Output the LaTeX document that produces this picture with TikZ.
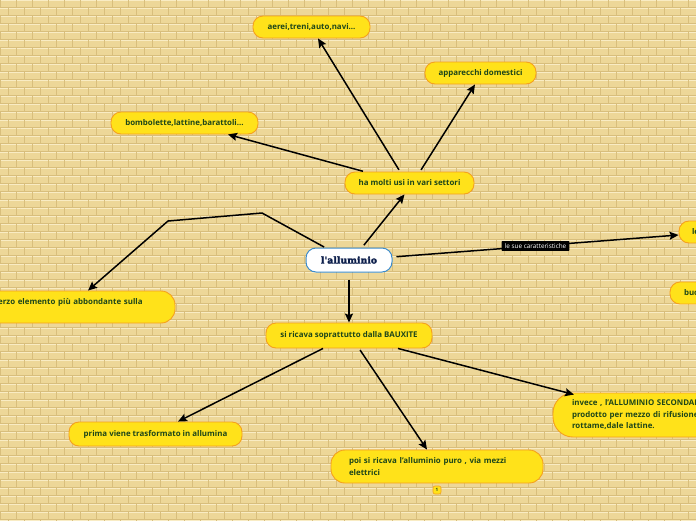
\documentclass[tikz,border=0pt]{standalone}
\usepackage{fontspec}
\setmainfont{Open Sans}
\newfontfamily\titlefont[BoldFeatures={FakeBold=2.5}]{DejaVu Serif}
\usetikzlibrary{arrows.meta,calc}
\definecolor{bgbase}{RGB}{237,215,152}
\definecolor{mortarlight}{RGB}{249,236,196}
\definecolor{mortardark}{RGB}{216,190,124}
\definecolor{boxyellow}{RGB}{255,226,26}
\definecolor{boxorange}{RGB}{245,160,30}
\definecolor{txtgreen}{RGB}{30,70,25}
\definecolor{titlenavy}{RGB}{12,30,75}
\definecolor{titleblue}{RGB}{60,140,205}
\tikzset{
  leaf/.style={draw=boxorange, line width=0.9pt, fill=boxyellow, rounded corners=10pt,
    text=txtgreen, font=\fontsize{7.9}{11.5}\selectfont\bfseries, inner sep=0pt,
    minimum height=22pt},
  wideleaf/.style={leaf, align=left, inner xsep=18pt, inner ysep=0pt, rounded corners=14pt},
  rootbox/.style={draw=titleblue, line width=1pt, fill=white, rounded corners=10pt,
    text=titlenavy, font=\titlefont\bfseries\fontsize{9.3}{10}\selectfont,
    minimum width=86pt, minimum height=24pt, inner sep=0pt},
  conn/.style={draw=black, line width=1.5pt, -{Stealth[length=9pt,width=8pt,inset=1.5pt]}},
  edgelabel/.style={fill=black, text=white, font=\fontsize{6.4}{7}\selectfont,
    inner xsep=3pt, inner ysep=2.4pt, rounded corners=0.6pt},
  badge/.style={draw=boxorange, line width=0.6pt, fill=boxyellow, rounded corners=2pt,
    minimum size=8pt, inner sep=0pt, text=txtgreen, font=\fontsize{4.5}{5}\selectfont\bfseries}
}
\begin{document}
\begin{tikzpicture}[x=1pt,y=-1pt]
\useasboundingbox (0,0) rectangle (696,520);
\clip (0,0) rectangle (696,520);
% brick background
\fill[bgbase] (0,0) rectangle (696,520);
\foreach \r in {0,...,65} {
  \pgfmathsetmacro\yy{\r*8}
  \pgfmathsetmacro\off{mod(\r,2)*8}
  \draw[mortarlight, line width=0.9pt] (0,\yy) -- (696,\yy);
  \draw[mortardark, line width=0.4pt] (0,\yy+7.3) -- (696,\yy+7.3);
  \draw[mortardark, line width=0.6pt] \foreach \c in {0,...,44} { (\off+\c*16,\yy) -- ++(0,7.3) };
}
% nodes
\node[leaf, minimum width=117pt] (aerei) at (311.5,27) {aerei,treni,auto,navi...};
\node[leaf, minimum width=111pt] (app) at (480.5,73) {apparecchi domestici};
\node[leaf, minimum width=147pt] (bomb) at (184.5,123) {bombolette,lattine,barattoli...};
\node[leaf, minimum width=129pt] (usi) at (409.5,183) {ha molti usi in vari settori};
\node[rootbox] (allu) at (349,260) {l'alluminio};
\node[wideleaf, text width=177pt, minimum height=32pt] (terzo) at (68.5,307) {è il terzo elemento più abbondante sulla\\terra};
\node[leaf, align=left, text width=64pt, inner xsep=13pt] (le) at (724,232) {leggero};
\node[leaf, align=left, text width=140pt, inner xsep=14pt] (bu) at (754,293) {buon conduttore di calore};
\node[leaf, minimum width=166pt, minimum height=25pt] (si) at (349,335.5) {si ricava soprattutto dalla BAUXITE};
\node[leaf, minimum width=173pt, minimum height=24pt] (prima) at (155.5,434) {prima viene trasformato in allumina};
\node[wideleaf, text width=176pt, minimum height=33pt] (poi) at (437,466.5) {poi si ricava l'alluminio puro , via mezzi\\elettrici};
\node[wideleaf, text width=200pt, inner xsep=19pt, minimum height=44pt, rounded corners=20pt] (invece) at (672,415) {invece , l'ALLUMINIO SECONDARIO viene\\prodotto per mezzo di rifusione del\\rottame,dale lattine.};
\node[badge] (one) at (437,490) {1};
% bend points
\coordinate (b1) at (262,213);
\coordinate (b2) at (168,221);
% connectors
\draw[conn, shorten <=3pt] ([xshift=13pt]allu.north) -- ([xshift=-5pt]usi.south);
\draw[conn, shorten <=2pt] ([xshift=-9.5pt]usi.north) -- ([xshift=6.5pt]aerei.south);
\draw[conn, shorten <=2pt] ([xshift=10.5pt]usi.north) -- ([xshift=-5.5pt]app.south);
\draw[conn, shorten <=1pt] ([xshift=-45.5pt]usi.north) -- ([xshift=43.5pt]bomb.south);
\draw[conn, shorten <=1pt] ([xshift=-24pt]allu.north) -- (b1) -- (b2) -- ([xshift=19.5pt]terzo.north);
\draw[conn, shorten <=4pt] ([yshift=3pt]allu.east) -- node[edgelabel, pos=0.5] (lbl) {le sue caratteristiche} ([yshift=-3pt]le.west);
\draw[conn, shorten <=7pt] (allu.south) -- (si.north);
\draw[conn] ([xshift=-26pt]si.south) -- ([xshift=22.5pt]prima.north);
\draw[conn, shorten <=2pt] ([xshift=10pt]si.south) -- ([xshift=-10pt]poi.north);
\draw[conn] ([xshift=49pt]si.south) -- ([xshift=-98pt,yshift=-2pt]invece.north);
\end{tikzpicture}
\end{document}
